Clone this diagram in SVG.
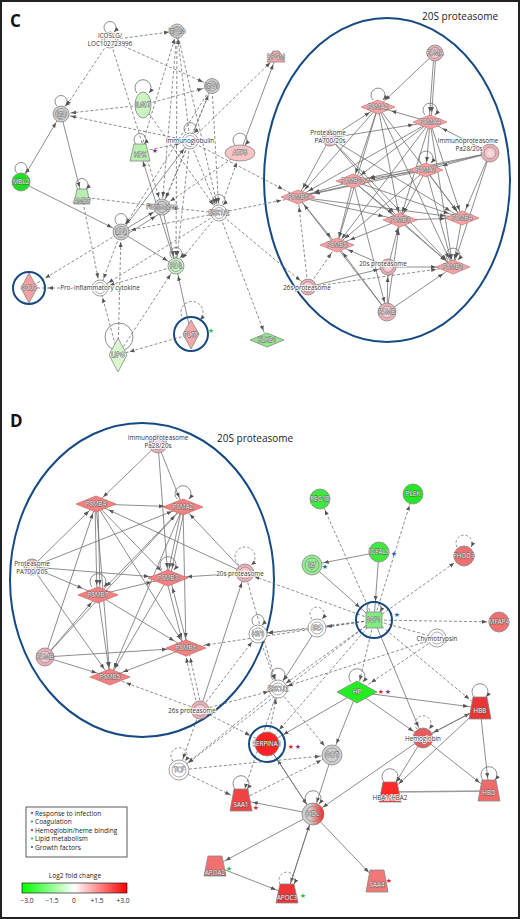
<svg xmlns="http://www.w3.org/2000/svg" width="520" height="919" viewBox="0 0 520 919">
<defs>
<style>
.e{stroke:#717171;stroke-width:0.8;fill:none}
.d{stroke:#717171;stroke-width:0.8;stroke-dasharray:3 2;fill:none}
.lp{stroke:#717171;stroke-width:0.8;fill:none}
.ld{stroke:#717171;stroke-width:0.8;fill:none;stroke-dasharray:2.5 2}
.ring{stroke:#888;stroke-width:0.7;fill:none}
.nd{stroke:#888;stroke-width:0.8}
.gray{fill:#cfcfcf}
.wht{fill:#fff}
.pk{fill:url(#pkg)}
.dmc{fill:#f5a3a3;stroke:#c77;stroke-width:0.7}
.dmd{fill:#f28282;stroke:#c66;stroke-width:0.7}
.blue{fill:none;stroke:#174a84;stroke-width:2}
.big{fill:none;stroke:#174a84;stroke-width:2}
text{font-family:"Open Sans","Liberation Sans",sans-serif}
.t{font-size:6.3px;fill:#333;text-anchor:middle;stroke:#fff;stroke-width:1.6px;paint-order:stroke;stroke-linejoin:round}
.tw{font-size:6.3px;fill:#fff;text-anchor:middle;stroke:#555;stroke-width:0.8px;paint-order:stroke;stroke-linejoin:round}
.st{font-family:"DejaVu Sans",sans-serif;font-size:7px;text-anchor:middle}
.lg{font-size:6.6px;fill:#222}
.tk{font-size:6.6px;fill:#222;text-anchor:middle}
</style>
<radialGradient id="pkg" cx="0.5" cy="0.5" r="0.5"><stop offset="0" stop-color="#fde6e9"/><stop offset="1" stop-color="#eba3ae"/></radialGradient>
<linearGradient id="hdlg" x1="0" x2="1" y1="0" y2="0"><stop offset="0.35" stop-color="#cfcfcf"/><stop offset="1" stop-color="#ff1c1c"/></linearGradient>
<linearGradient id="fc" x1="0" x2="1" y1="0" y2="0"><stop offset="0" stop-color="#00ff00"/><stop offset="0.5" stop-color="#ffffff"/><stop offset="1" stop-color="#ff0000"/></linearGradient>
<marker id="a0" viewBox="0 0 10 10" refX="10" refY="5" markerWidth="5" markerHeight="5" markerUnits="userSpaceOnUse" orient="auto"><path d="M0,1 L10,5 L0,9 z" fill="#555"/></marker>
<marker id="a8" viewBox="0 0 10 10" refX="26" refY="5" markerWidth="5" markerHeight="5" markerUnits="userSpaceOnUse" orient="auto"><path d="M0,1 L10,5 L0,9 z" fill="#555"/></marker>
<marker id="a10" viewBox="0 0 10 10" refX="30" refY="5" markerWidth="5" markerHeight="5" markerUnits="userSpaceOnUse" orient="auto"><path d="M0,1 L10,5 L0,9 z" fill="#555"/></marker>
<marker id="a12" viewBox="0 0 10 10" refX="34" refY="5" markerWidth="5" markerHeight="5" markerUnits="userSpaceOnUse" orient="auto"><path d="M0,1 L10,5 L0,9 z" fill="#555"/></marker>
<marker id="a14" viewBox="0 0 10 10" refX="38" refY="5" markerWidth="5" markerHeight="5" markerUnits="userSpaceOnUse" orient="auto"><path d="M0,1 L10,5 L0,9 z" fill="#555"/></marker>
<marker id="a17" viewBox="0 0 10 10" refX="44" refY="5" markerWidth="5" markerHeight="5" markerUnits="userSpaceOnUse" orient="auto"><path d="M0,1 L10,5 L0,9 z" fill="#555"/></marker>
<marker id="a19" viewBox="0 0 10 10" refX="48" refY="5" markerWidth="5" markerHeight="5" markerUnits="userSpaceOnUse" orient="auto"><path d="M0,1 L10,5 L0,9 z" fill="#555"/></marker>
</defs>
<rect x="0" y="0" width="520" height="919" fill="#fff"/>
<rect x="1" y="1" width="518" height="917" fill="none" stroke="#222" stroke-width="2"/>

<!-- ================= PANEL C ================= -->
<text x="10" y="27" style="font-family:'Open Sans','Liberation Sans',sans-serif;font-size:17px;font-weight:bold;fill:#111">C</text>
<text x="422" y="20" style="font-size:10px;fill:#222">20S proteasome</text>
<ellipse cx="387" cy="180" rx="123" ry="162" class="big"/>

<g id="c-edges">
<line class="e" x1="21" y1="182" x2="61" y2="114" marker-end="url(#a10)"/>
<line class="e" x1="61" y1="114" x2="82" y2="197" marker-end="url(#a10)"/>
<line class="e" x1="21" y1="182" x2="121" y2="232" marker-end="url(#a10)"/>
<line class="e" x1="121" y1="232" x2="162" y2="207" marker-end="url(#a10)"/>
<line class="e" x1="124" y1="236" x2="164" y2="211" marker-end="url(#a10)"/>
<line class="e" x1="121" y1="232" x2="190" y2="141" marker-end="url(#a10)"/>
<line class="e" x1="121" y1="232" x2="176" y2="266" marker-end="url(#a10)"/>
<line class="e" x1="162" y1="207" x2="176" y2="266" marker-end="url(#a10)"/>
<line class="e" x1="176" y1="266" x2="140" y2="152" marker-end="url(#a10)"/>
<line class="e" x1="191" y1="334" x2="176" y2="266" marker-end="url(#a10)"/>
<line class="e" x1="240" y1="153" x2="276" y2="57" marker-end="url(#a8)"/>
<line class="e" x1="308" y1="287" x2="388" y2="267" marker-end="url(#a10)"/>
<line class="d" x1="110" y1="40" x2="177" y2="31" marker-end="url(#a8)"/>
<line class="d" x1="110" y1="40" x2="212" y2="86" marker-end="url(#a10)"/>
<line class="d" x1="110" y1="40" x2="61" y2="114" marker-end="url(#a10)"/>
<line class="d" x1="110" y1="40" x2="162" y2="207" marker-end="url(#a10)"/>
<line class="d" x1="143" y1="105" x2="61" y2="114" marker-end="url(#a10)"/>
<line class="d" x1="143" y1="105" x2="212" y2="86" marker-end="url(#a10)"/>
<line class="d" x1="143" y1="105" x2="219" y2="213" marker-end="url(#a10)"/>
<line class="d" x1="190" y1="141" x2="61" y2="114" marker-end="url(#a10)"/>
<line class="d" x1="190" y1="141" x2="177" y2="31" marker-end="url(#a8)"/>
<line class="d" x1="190" y1="141" x2="212" y2="86" marker-end="url(#a10)"/>
<line class="d" x1="190" y1="141" x2="276" y2="57" marker-end="url(#a8)"/>
<line class="d" x1="190" y1="141" x2="298" y2="197" marker-end="url(#a17)"/>
<line class="d" x1="140" y1="152" x2="177" y2="31" marker-end="url(#a8)"/>
<line class="d" x1="140" y1="152" x2="190" y2="141" marker-end="url(#a10)"/>
<line class="d" x1="177" y1="31" x2="162" y2="207" marker-end="url(#a10)"/>
<line class="d" x1="177" y1="31" x2="219" y2="213" marker-end="url(#a10)"/>
<line class="d" x1="177" y1="31" x2="176" y2="266" marker-end="url(#a10)"/>
<line class="d" x1="212" y1="86" x2="121" y2="232" marker-end="url(#a10)"/>
<line class="d" x1="212" y1="86" x2="219" y2="213" marker-end="url(#a10)"/>
<line class="d" x1="212" y1="86" x2="162" y2="207" marker-end="url(#a10)"/>
<line class="d" x1="82" y1="197" x2="162" y2="207" marker-end="url(#a10)"/>
<line class="d" x1="82" y1="197" x2="100" y2="288" marker-end="url(#a10)"/>
<line class="d" x1="190" y1="141" x2="162" y2="207" marker-end="url(#a10)"/>
<line class="d" x1="190" y1="141" x2="176" y2="266" marker-end="url(#a10)"/>
<line class="d" x1="190" y1="141" x2="219" y2="213" marker-end="url(#a10)"/>
<line class="d" x1="219" y1="213" x2="240" y2="153" marker-end="url(#a10)"/>
<line class="d" x1="219" y1="213" x2="298" y2="197" marker-end="url(#a17)"/>
<line class="d" x1="219" y1="213" x2="308" y2="287" marker-end="url(#a10)"/>
<line class="d" x1="219" y1="213" x2="267" y2="340" marker-end="url(#a10)"/>
<line class="d" x1="219" y1="213" x2="121" y2="232" marker-end="url(#a10)"/>
<line class="d" x1="219" y1="213" x2="176" y2="266" marker-end="url(#a10)"/>
<line class="d" x1="219" y1="213" x2="100" y2="288" marker-end="url(#a10)"/>
<line class="d" x1="219" y1="213" x2="162" y2="207" marker-end="url(#a10)"/>
<line class="d" x1="240" y1="153" x2="162" y2="207" marker-end="url(#a10)"/>
<line class="d" x1="121" y1="232" x2="29" y2="288" marker-end="url(#a19)"/>
<line class="d" x1="100" y1="288" x2="29" y2="288" marker-end="url(#a19)"/>
<line class="d" x1="176" y1="266" x2="100" y2="288" marker-end="url(#a10)"/>
<line class="d" x1="121" y1="232" x2="100" y2="288" marker-end="url(#a10)"/>
<line class="d" x1="118" y1="355" x2="100" y2="288" marker-end="url(#a10)"/>
<line class="d" x1="118" y1="355" x2="176" y2="266" marker-end="url(#a10)"/>
<line class="d" x1="191" y1="334" x2="118" y2="355" marker-end="url(#a12)"/>
<line class="d" x1="118" y1="355" x2="121" y2="232" marker-end="url(#a10)"/>
<line class="d" x1="308" y1="287" x2="298" y2="197" marker-end="url(#a10)"/>
<line class="d" x1="308" y1="287" x2="337" y2="245" marker-end="url(#a10)"/>
<line class="d" x1="308" y1="287" x2="453" y2="267" marker-end="url(#a17)"/>
<line class="e" x1="435" y1="53" x2="378" y2="107" marker-end="url(#a10)"/>
<line class="e" x1="434" y1="53" x2="429" y2="122" marker-end="url(#a10)"/>
<line class="e" x1="436" y1="53" x2="431" y2="122" marker-end="url(#a10)"/>
<line class="e" x1="330" y1="138" x2="378" y2="107" marker-end="url(#a10)"/>
<line class="e" x1="330" y1="138" x2="430" y2="122" marker-end="url(#a17)"/>
<line class="e" x1="330" y1="138" x2="298" y2="197" marker-end="url(#a10)"/>
<line class="e" x1="330" y1="138" x2="400" y2="220" marker-end="url(#a10)"/>
<line class="e" x1="330" y1="138" x2="453" y2="267" marker-end="url(#a10)"/>
<line class="e" x1="330" y1="138" x2="462" y2="218" marker-end="url(#a14)"/>
<line class="e" x1="490" y1="153" x2="430" y2="122" marker-end="url(#a14)"/>
<line class="e" x1="490" y1="153" x2="426" y2="170" marker-end="url(#a17)"/>
<line class="e" x1="490" y1="153" x2="353" y2="181" marker-end="url(#a17)"/>
<line class="e" x1="490" y1="153" x2="462" y2="218" marker-end="url(#a10)"/>
<line class="e" x1="490" y1="153" x2="453" y2="267" marker-end="url(#a10)"/>
<line class="e" x1="490" y1="153" x2="298" y2="197" marker-end="url(#a17)"/>
<line class="e" x1="378" y1="107" x2="298" y2="197" marker-end="url(#a10)"/>
<line class="e" x1="378" y1="107" x2="353" y2="181" marker-end="url(#a8)"/>
<line class="e" x1="378" y1="107" x2="400" y2="220" marker-end="url(#a8)"/>
<line class="e" x1="378" y1="107" x2="337" y2="245" marker-end="url(#a8)"/>
<line class="e" x1="378" y1="107" x2="462" y2="218" marker-end="url(#a10)"/>
<line class="e" x1="378" y1="107" x2="453" y2="267" marker-end="url(#a10)"/>
<line class="e" x1="430" y1="122" x2="378" y2="107" marker-end="url(#a14)"/>
<line class="e" x1="430" y1="122" x2="298" y2="197" marker-end="url(#a12)"/>
<line class="e" x1="430" y1="122" x2="353" y2="181" marker-end="url(#a10)"/>
<line class="e" x1="430" y1="122" x2="426" y2="170" marker-end="url(#a8)"/>
<line class="e" x1="430" y1="122" x2="400" y2="220" marker-end="url(#a8)"/>
<line class="e" x1="430" y1="122" x2="462" y2="218" marker-end="url(#a8)"/>
<line class="e" x1="430" y1="122" x2="453" y2="267" marker-end="url(#a8)"/>
<line class="e" x1="430" y1="122" x2="337" y2="245" marker-end="url(#a8)"/>
<line class="e" x1="426" y1="170" x2="298" y2="197" marker-end="url(#a17)"/>
<line class="e" x1="426" y1="170" x2="353" y2="181" marker-end="url(#a17)"/>
<line class="e" x1="426" y1="170" x2="400" y2="220" marker-end="url(#a8)"/>
<line class="e" x1="426" y1="170" x2="337" y2="245" marker-end="url(#a10)"/>
<line class="e" x1="426" y1="170" x2="453" y2="267" marker-end="url(#a8)"/>
<line class="e" x1="426" y1="170" x2="462" y2="218" marker-end="url(#a8)"/>
<line class="e" x1="353" y1="181" x2="298" y2="197" marker-end="url(#a17)"/>
<line class="e" x1="353" y1="181" x2="337" y2="245" marker-end="url(#a8)"/>
<line class="e" x1="353" y1="181" x2="400" y2="220" marker-end="url(#a10)"/>
<line class="e" x1="353" y1="181" x2="462" y2="218" marker-end="url(#a14)"/>
<line class="e" x1="353" y1="181" x2="453" y2="267" marker-end="url(#a10)"/>
<line class="e" x1="353" y1="181" x2="387" y2="312" marker-end="url(#a10)"/>
<line class="e" x1="298" y1="197" x2="337" y2="245" marker-end="url(#a10)"/>
<line class="e" x1="298" y1="197" x2="400" y2="220" marker-end="url(#a17)"/>
<line class="e" x1="298" y1="197" x2="462" y2="218" marker-end="url(#a17)"/>
<line class="e" x1="400" y1="220" x2="462" y2="218" marker-end="url(#a17)"/>
<line class="e" x1="400" y1="220" x2="453" y2="267" marker-end="url(#a10)"/>
<line class="e" x1="400" y1="220" x2="337" y2="245" marker-end="url(#a14)"/>
<line class="e" x1="462" y1="218" x2="453" y2="267" marker-end="url(#a8)"/>
<line class="e" x1="388" y1="267" x2="453" y2="267" marker-end="url(#a17)"/>
<line class="e" x1="388" y1="267" x2="337" y2="245" marker-end="url(#a12)"/>
<line class="e" x1="388" y1="267" x2="400" y2="220" marker-end="url(#a8)"/>
<line class="e" x1="387" y1="312" x2="337" y2="245" marker-end="url(#a10)"/>
<line class="e" x1="387" y1="312" x2="453" y2="267" marker-end="url(#a12)"/>
<line class="e" x1="387" y1="312" x2="400" y2="220" marker-end="url(#a10)"/>
<line class="e" x1="387" y1="312" x2="388" y2="267" marker-end="url(#a10)"/>
<line class="e" x1="387" y1="312" x2="298" y2="197" marker-end="url(#a10)"/>
</g>

<g id="c-icoslg"><path class="lp" d="M106,32 A6 6 0 1 1 114,32" marker-end="url(#a0)"/><circle cx="110" cy="40" r="8" class="nd" fill="#eef3ec"/><circle cx="110" cy="40" r="5.5" class="ring"/><text class="t" x="110" y="38">ICOSLG/</text><text class="t" x="110" y="46">LOC102723996</text></g>
<g id="c-igg2a"><circle cx="177" cy="31" r="7" class="nd gray"/><circle cx="177" cy="31" r="4.5" class="ring"/><text class="tw" x="177" y="33">IgG2a</text></g>
<g id="c-igg1"><circle cx="212" cy="86" r="7.5" class="nd gray"/><circle cx="212" cy="86" r="5" class="ring"/><text class="tw" x="212" y="88">IgG1</text></g>
<g id="c-il6st"><path class="lp" d="M137,93 A8 8 0 1 1 149,93" marker-end="url(#a0)"/><ellipse cx="143" cy="105" rx="8" ry="13" class="nd" fill="#c9f5c1"/><text class="tw" x="143" y="107">IL6ST</text></g>
<g id="c-iga"><path class="lp" d="M57,106 A6 6 0 1 1 65,106" marker-end="url(#a0)"/><circle cx="61" cy="114" r="8" class="nd gray"/><circle cx="61" cy="114" r="5.5" class="ring"/><text class="tw" x="61" y="116">Iga</text></g>
<g id="c-imm"><path class="lp" d="M186,133 A6 6 0 1 1 194,133" marker-end="url(#a0)"/><circle cx="190" cy="141" r="8" class="nd wht"/><circle cx="190" cy="141" r="5.5" class="ring"/><text class="t" x="190" y="143">Immunoglobulin</text></g>
<g id="c-hpx"><path class="lp" d="M136,144 A6 6 0 1 1 144,144" marker-end="url(#a0)"/><polygon points="134,144 146,144 150,161 130,161" class="nd" fill="#b7efaf"/><text class="tw" x="140" y="157">HPX</text><text class="st" x="155" y="153" fill="#7b2d9b">★</text></g>
<g id="c-atf6"><path class="lp" d="M235,145 A7 7 0 1 1 245,145" marker-end="url(#a0)"/><ellipse cx="240" cy="153" rx="15" ry="8" class="nd" fill="#f9c4c4"/><text class="tw" x="240" y="155">ATF6</text></g>
<g id="c-mbl2"><path class="lp" d="M17,173 A6 6 0 1 1 25,173" marker-end="url(#a0)"/><circle cx="21" cy="182" r="9" class="nd" fill="#22dd22"/><text class="tw" x="21" y="184">MBL2</text></g>
<g id="c-ambp"><path class="lp" d="M78,189 A6 6 0 1 1 86,189" marker-end="url(#a0)"/><polygon points="77,189 87,189 90,204 74,204" class="nd" fill="#b7efaf"/><text class="tw" x="82" y="203">AMBP</text></g>
<g id="c-bpgm"><polygon points="273,51 279,51 285,62 267,62" class="nd" fill="#f4a6a6"/><text class="tw" x="276" y="59">BPGM</text></g>
<g id="c-ldl"><path class="lp" d="M117,224 A6 6 0 1 1 125,224" marker-end="url(#a0)"/><circle cx="121" cy="232" r="8" class="nd gray"/><circle cx="121" cy="232" r="5.5" class="ring"/><text class="tw" x="121" y="234">LDL</text></g>
<g id="c-fib"><circle cx="162" cy="207" r="8" class="nd gray"/><circle cx="162" cy="207" r="5.5" class="ring"/><text class="tw" x="162" y="209">Fibrinogen</text></g>
<g id="c-erk"><path class="lp" d="M215,205 A6 6 0 1 1 223,205" marker-end="url(#a0)"/><circle cx="219" cy="213" r="8" class="nd wht"/><circle cx="219" cy="213" r="5.5" class="ring"/><text class="tw" x="219" y="215">ERK1/2</text></g>
<g id="c-hdl"><path class="lp" d="M172,258 A6 6 0 1 1 180,258" marker-end="url(#a0)"/><circle cx="176" cy="266" r="8" class="nd" fill="#c8f5c0"/><circle cx="176" cy="266" r="5.5" class="ring"/><text class="tw" x="176" y="268">HDL</text></g>
<g id="c-gclc"><polygon points="29,273 37,288 29,303 21,288" class="nd" fill="#f4a0a0"/><circle cx="29" cy="288" r="16" class="blue"/><text class="tw" x="29" y="290">GCLC</text></g>
<g id="c-proinf"><circle cx="100" cy="288" r="8" class="nd wht"/><circle cx="100" cy="288" r="5.5" class="ring"/><text class="t" x="100" y="290">Pro- inflammatory cytokine</text></g>
<g id="c-pltp"><path class="ld" d="M184,320 A11 11 0 1 1 200,320" marker-end="url(#a0)"/><polygon points="191,320 199,334 191,349 183,334" class="nd" fill="#f6a8a8"/><circle cx="191" cy="334" r="17" class="blue"/><text class="tw" x="191" y="337">PLTP</text><text class="st" x="211" y="333" fill="#22c244">★</text></g>
<g id="c-lipg"><circle cx="119" cy="337" r="14" class="lp"/><polygon points="118,338 127,355 118,372 109,355" class="nd" fill="#d8f7cf"/><text class="tw" x="118" y="357">LIPG</text></g>
<g id="c-klkb1"><polygon points="250,340 267,333 284,340 267,347" class="nd" fill="#90e88a"/><text class="tw" x="267" y="342">KLKB1</text></g>
<g id="c-psma"><circle cx="435" cy="53" r="8" class="nd pk"/><circle cx="435" cy="53" r="5.5" class="ring"/><text class="tw" x="435" y="55">PSMA</text></g>
<g id="c-psma2"><path class="lp" d="M373,100 A7 7 0 1 1 383,100" marker-end="url(#a0)"/><polygon points="361,107 378,100 395,107 378,114" class="dmc"/><text class="tw" x="378" y="109">PSMA2</text></g>
<g id="c-psma4"><path class="lp" d="M425,115 A7 7 0 1 1 435,115" marker-end="url(#a0)"/><polygon points="413,122 430,115 447,122 430,129" class="dmc"/><text class="tw" x="430" y="124">PSMA4</text></g>
<g id="c-prot"><circle cx="330" cy="138" r="8" class="nd pk"/><circle cx="330" cy="138" r="5.5" class="ring"/><text class="t" x="328" y="135">Proteasome</text><text class="t" x="330" y="143">PA700/20s</text></g>
<g id="c-iprot"><circle cx="490" cy="153" r="9" class="nd pk"/><circle cx="490" cy="153" r="6" class="ring"/><text class="t" x="468" y="143">Immunoproteasome</text><text class="t" x="469" y="151">Pa28/20s</text></g>
<g id="c-psma1"><path class="lp" d="M421,163 A7 7 0 1 1 431,163" marker-end="url(#a0)"/><polygon points="409,170 426,163 443,170 426,177" class="dmc"/><text class="tw" x="426" y="172">PSMA1</text></g>
<g id="c-psmb10"><polygon points="336,181 353,174 370,181 353,188" class="dmc"/><text class="tw" x="353" y="183">PSMB10</text></g>
<g id="c-psmb6"><polygon points="281,197 298,190 315,197 298,204" class="dmc"/><text class="tw" x="298" y="199">PSMB6</text></g>
<g id="c-psmb3"><polygon points="383,220 400,213 417,220 400,227" class="dmc"/><text class="tw" x="400" y="222">PSMB3</text></g>
<g id="c-psmb4"><polygon points="445,218 462,211 479,218 462,225" class="dmc"/><text class="tw" x="462" y="220">PSMB4</text></g>
<g id="c-psmb5"><polygon points="320,245 337,238 354,245 337,252" class="dmc"/><text class="tw" x="337" y="247">PSMB5</text></g>
<g id="c-20s"><circle cx="388" cy="267" r="8" class="nd pk"/><circle cx="388" cy="267" r="5.5" class="ring"/><text class="t" x="383" y="266">20s proteasome</text></g>
<g id="c-psmb1"><path class="lp" d="M448,260 A7 7 0 1 1 458,260" marker-end="url(#a0)"/><polygon points="436,267 453,260 470,267 453,274" class="dmc"/><text class="tw" x="453" y="269">PSMB1</text></g>
<g id="c-26s"><circle cx="308" cy="287" r="8" class="nd pk"/><circle cx="308" cy="287" r="5.5" class="ring"/><text class="t" x="307" y="290">26s proteasome</text></g>
<g id="c-psmb"><circle cx="387" cy="312" r="9" class="nd pk"/><circle cx="387" cy="312" r="6" class="ring"/><text class="tw" x="387" y="314">PSMB</text></g>

<!-- ================= PANEL D ================= -->
<text x="10" y="427" style="font-family:'Open Sans','Liberation Sans',sans-serif;font-size:17px;font-weight:bold;fill:#111">D</text>
<text x="217" y="442" style="font-size:10px;fill:#222">20S proteasome</text>
<ellipse cx="142" cy="580" rx="132" ry="157" class="big"/>

<g id="d-edges">
<line class="e" x1="158" y1="444" x2="96" y2="504" marker-end="url(#a10)"/>
<line class="e" x1="158" y1="444" x2="183" y2="507" marker-end="url(#a10)"/>
<line class="e" x1="158" y1="444" x2="168" y2="578" marker-end="url(#a10)"/>
<line class="e" x1="96" y1="504" x2="183" y2="507" marker-end="url(#a19)"/>
<line class="e" x1="32" y1="567" x2="96" y2="504" marker-end="url(#a10)"/>
<line class="e" x1="32" y1="567" x2="183" y2="507" marker-end="url(#a12)"/>
<line class="e" x1="32" y1="567" x2="168" y2="578" marker-end="url(#a19)"/>
<line class="e" x1="32" y1="567" x2="98" y2="595" marker-end="url(#a17)"/>
<line class="e" x1="32" y1="567" x2="110" y2="677" marker-end="url(#a10)"/>
<line class="e" x1="95" y1="504" x2="97" y2="595" marker-end="url(#a10)"/>
<line class="e" x1="98" y1="504" x2="100" y2="595" marker-end="url(#a10)"/>
<line class="e" x1="96" y1="504" x2="168" y2="578" marker-end="url(#a10)"/>
<line class="e" x1="96" y1="504" x2="186" y2="648" marker-end="url(#a10)"/>
<line class="e" x1="96" y1="504" x2="110" y2="677" marker-end="url(#a10)"/>
<line class="e" x1="245" y1="573" x2="96" y2="504" marker-end="url(#a14)"/>
<line class="e" x1="245" y1="573" x2="183" y2="507" marker-end="url(#a10)"/>
<line class="e" x1="245" y1="573" x2="168" y2="578" marker-end="url(#a19)"/>
<line class="e" x1="183" y1="507" x2="98" y2="595" marker-end="url(#a12)"/>
<line class="e" x1="183" y1="507" x2="110" y2="677" marker-end="url(#a10)"/>
<line class="e" x1="183" y1="507" x2="186" y2="648" marker-end="url(#a10)"/>
<line class="e" x1="182" y1="507" x2="167" y2="578" marker-end="url(#a10)"/>
<line class="e" x1="185" y1="507" x2="170" y2="578" marker-end="url(#a10)"/>
<line class="e" x1="45" y1="657" x2="96" y2="504" marker-end="url(#a10)"/>
<line class="e" x1="45" y1="657" x2="98" y2="595" marker-end="url(#a10)"/>
<line class="e" x1="45" y1="657" x2="186" y2="648" marker-end="url(#a19)"/>
<line class="e" x1="45" y1="657" x2="110" y2="677" marker-end="url(#a14)"/>
<line class="e" x1="45" y1="657" x2="183" y2="507" marker-end="url(#a12)"/>
<line class="e" x1="98" y1="595" x2="168" y2="578" marker-end="url(#a17)"/>
<line class="e" x1="98" y1="595" x2="186" y2="648" marker-end="url(#a14)"/>
<line class="e" x1="98" y1="595" x2="110" y2="677" marker-end="url(#a10)"/>
<line class="e" x1="166" y1="578" x2="184" y2="648" marker-end="url(#a10)"/>
<line class="e" x1="188" y1="648" x2="170" y2="578" marker-end="url(#a10)"/>
<line class="e" x1="168" y1="578" x2="110" y2="677" marker-end="url(#a10)"/>
<line class="e" x1="186" y1="648" x2="110" y2="677" marker-end="url(#a14)"/>
<line class="e" x1="200" y1="710" x2="245" y2="573" marker-end="url(#a10)"/>
<line class="d" x1="198" y1="710" x2="184" y2="648" marker-end="url(#a10)"/>
<line class="d" x1="202" y1="710" x2="188" y2="648" marker-end="url(#a10)"/>
<line class="d" x1="200" y1="710" x2="110" y2="677" marker-end="url(#a17)"/>
<line class="d" x1="200" y1="710" x2="258" y2="634" marker-end="url(#a10)"/>
<line class="d" x1="200" y1="710" x2="278" y2="689" marker-end="url(#a10)"/>
<line class="d" x1="200" y1="710" x2="179" y2="770" marker-end="url(#a12)"/>
<line class="d" x1="200" y1="710" x2="267" y2="744" marker-end="url(#a19)"/>
<line class="d" x1="374" y1="620" x2="186" y2="648" marker-end="url(#a19)"/>
<line class="d" x1="374" y1="620" x2="245" y2="573" marker-end="url(#a10)"/>
<line class="d" x1="374" y1="620" x2="258" y2="634" marker-end="url(#a10)"/>
<line class="d" x1="374" y1="620" x2="317" y2="628" marker-end="url(#a10)"/>
<line class="d" x1="374" y1="620" x2="278" y2="689" marker-end="url(#a10)"/>
<line class="d" x1="374" y1="620" x2="320" y2="499" marker-end="url(#a12)"/>
<line class="d" x1="374" y1="620" x2="413" y2="494" marker-end="url(#a12)"/>
<line class="d" x1="374" y1="620" x2="464" y2="556" marker-end="url(#a12)"/>
<line class="d" x1="374" y1="620" x2="499" y2="622" marker-end="url(#a12)"/>
<line class="d" x1="374" y1="620" x2="437" y2="638"/>
<line class="d" x1="374" y1="620" x2="357" y2="692" marker-end="url(#a12)"/>
<line class="d" x1="374" y1="620" x2="480" y2="708" marker-end="url(#a14)"/>
<line class="d" x1="374" y1="620" x2="267" y2="744" marker-end="url(#a19)"/>
<line class="d" x1="374" y1="620" x2="179" y2="770" marker-end="url(#a12)"/>
<line class="d" x1="317" y1="628" x2="258" y2="634" marker-end="url(#a10)"/>
<line class="d" x1="258" y1="634" x2="278" y2="689" marker-end="url(#a10)"/>
<line class="d" x1="245" y1="573" x2="278" y2="689" marker-end="url(#a10)"/>
<line class="d" x1="437" y1="638" x2="357" y2="692" marker-end="url(#a17)"/>
<line class="d" x1="437" y1="638" x2="278" y2="689" marker-end="url(#a10)"/>
<line class="d" x1="278" y1="689" x2="241" y2="800" marker-end="url(#a12)"/>
<line class="d" x1="267" y1="744" x2="278" y2="689" marker-end="url(#a10)"/>
<line class="d" x1="278" y1="689" x2="332" y2="755" marker-end="url(#a12)"/>
<line class="d" x1="278" y1="689" x2="179" y2="770" marker-end="url(#a12)"/>
<line class="d" x1="179" y1="770" x2="241" y2="800" marker-end="url(#a12)"/>
<line class="d" x1="241" y1="800" x2="332" y2="755" marker-end="url(#a12)"/>
<line class="d" x1="179" y1="770" x2="332" y2="755" marker-end="url(#a12)"/>
<line class="e" x1="379" y1="552" x2="374" y2="620" marker-end="url(#a19)"/>
<line class="e" x1="379" y1="552" x2="312" y2="565" marker-end="url(#a12)"/>
<line class="e" x1="312" y1="565" x2="374" y2="620" marker-end="url(#a19)"/>
<line class="e" x1="317" y1="628" x2="278" y2="689" marker-end="url(#a10)"/>
<line class="e" x1="357" y1="692" x2="480" y2="708" marker-end="url(#a12)"/>
<line class="e" x1="357" y1="692" x2="423" y2="738" marker-end="url(#a12)"/>
<line class="e" x1="357" y1="692" x2="332" y2="755" marker-end="url(#a12)"/>
<line class="e" x1="357" y1="692" x2="267" y2="744" marker-end="url(#a19)"/>
<line class="e" x1="374" y1="620" x2="423" y2="738" marker-end="url(#a12)"/>
<line class="e" x1="313" y1="814" x2="267" y2="744" marker-end="url(#a19)"/>
<line class="e" x1="267" y1="744" x2="313" y2="814" marker-end="url(#a12)"/>
<line class="e" x1="332" y1="755" x2="313" y2="814" marker-end="url(#a12)"/>
<line class="e" x1="313" y1="814" x2="241" y2="800" marker-end="url(#a12)"/>
<line class="e" x1="313" y1="814" x2="215" y2="866" marker-end="url(#a12)"/>
<line class="e" x1="215" y1="866" x2="287" y2="894" marker-end="url(#a12)"/>
<line class="e" x1="313" y1="814" x2="287" y2="894" marker-end="url(#a12)"/>
<line class="e" x1="287" y1="894" x2="313" y2="814" marker-end="url(#a12)"/>
<line class="e" x1="313" y1="814" x2="377" y2="881" marker-end="url(#a12)"/>
<line class="e" x1="423" y1="738" x2="313" y2="814" marker-end="url(#a12)"/>
<line class="e" x1="423" y1="738" x2="390" y2="792" marker-end="url(#a12)"/>
<line class="e" x1="423" y1="738" x2="480" y2="708" marker-end="url(#a12)"/>
<line class="e" x1="480" y1="708" x2="423" y2="738" marker-end="url(#a12)"/>
<line class="e" x1="423" y1="738" x2="489" y2="790" marker-end="url(#a12)"/>
<line class="e" x1="480" y1="708" x2="390" y2="792" marker-end="url(#a12)"/>
<line class="e" x1="480" y1="708" x2="489" y2="790" marker-end="url(#a12)"/>
<line x1="390" y1="792" x2="489" y2="791" style="stroke:#999;stroke-width:1.4"/>
</g>

<g id="d-iprot"><circle cx="158" cy="444" r="9" class="nd pk"/><circle cx="158" cy="444" r="6" class="ring"/><text class="t" x="158" y="440">Immunoproteasome</text><text class="t" x="158" y="448">Pa28/20s</text></g>
<g id="d-psmb4"><polygon points="76,504 96,496 116,504 96,512" class="dmd"/><text class="tw" x="96" y="506">PSMB4</text></g>
<g id="d-psma2"><path class="lp" d="M177,499 A8 8 0 1 1 189,499" marker-end="url(#a0)"/><polygon points="163,507 183,499 203,507 183,515" class="dmd"/><text class="tw" x="183" y="509">PSMA2</text></g>
<g id="d-prot"><circle cx="32" cy="567" r="8" class="nd pk"/><circle cx="32" cy="567" r="5.5" class="ring"/><text class="t" x="32" y="566">Proteasome</text><text class="t" x="32" y="574">PA700/20S</text></g>
<g id="d-psmb3"><path class="lp" d="M162,570 A8 8 0 1 1 174,570" marker-end="url(#a0)"/><polygon points="148,578 168,570 188,578 168,586" class="dmd"/><text class="tw" x="168" y="580">PSMB3</text></g>
<g id="d-20s"><path class="ld" d="M239,565 A10 10 0 1 1 251,565" marker-end="url(#a0)"/><circle cx="245" cy="573" r="9" class="nd pk"/><circle cx="245" cy="573" r="6" class="ring"/><text class="t" x="240" y="576">20s proteasome</text></g>
<g id="d-psmb7"><path class="lp" d="M92,587 A8 8 0 1 1 104,587" marker-end="url(#a0)"/><polygon points="78,595 98,587 118,595 98,603" class="dmd"/><text class="tw" x="98" y="597">PSMB7</text></g>
<g id="d-psmb6"><polygon points="166,648 186,640 206,648 186,656" class="dmd"/><text class="tw" x="186" y="650">PSMB6</text></g>
<g id="d-psmb"><circle cx="45" cy="657" r="9" class="nd pk"/><circle cx="45" cy="657" r="6" class="ring"/><text class="tw" x="45" y="659">PSMB</text></g>
<g id="d-psmb5"><polygon points="90,677 110,669 130,677 110,685" class="dmd"/><text class="tw" x="110" y="679">PSMB5</text></g>
<g id="d-26s"><circle cx="200" cy="710" r="9" class="nd pk"/><circle cx="200" cy="710" r="6" class="ring"/><text class="t" x="192" y="713">26s proteasome</text></g>
<g id="d-hif1"><path class="lp" d="M254,625 A6 6 0 1 1 262,625" marker-end="url(#a0)"/><circle cx="258" cy="634" r="9" class="nd wht"/><circle cx="258" cy="634" r="6" class="ring"/><text class="tw" x="258" y="636">Hif1</text></g>
<g id="d-reg1b"><circle cx="320" cy="499" r="10" class="nd" fill="#3ee83e"/><text class="tw" x="320" y="501">REG1B</text></g>
<g id="d-plek"><circle cx="413" cy="494" r="10" class="nd" fill="#22e822"/><text class="tw" x="413" y="496">PLEK</text></g>
<g id="d-igfals"><circle cx="379" cy="552" r="10" class="nd" fill="#3ee83e"/><text class="tw" x="379" y="554">IGFALS</text><text class="st" x="394" y="556" fill="#1f5fb8">★</text></g>
<g id="d-igf"><circle cx="312" cy="565" r="10" class="nd" fill="#90ee90"/><circle cx="312" cy="565" r="7" class="ring"/><text class="tw" x="312" y="567">Igf</text><text class="st" x="325" y="569" fill="#1f5fb8">★</text></g>
<g id="d-fhod3"><path class="ld" d="M457,547 A8 8 0 1 1 471,547" marker-end="url(#a0)"/><circle cx="464" cy="556" r="10" class="nd" fill="#f07070"/><text class="tw" x="464" y="558">FHOD3</text></g>
<g id="d-igf1"><path class="lp" d="M368,612 A7 7 0 1 1 380,612" marker-end="url(#a0)"/><rect x="366" y="612" width="16" height="16" class="nd" fill="#7eec7e"/><circle cx="374" cy="620" r="18" class="blue"/><text class="tw" x="374" y="622">IGF1</text><text class="st" x="397" y="617" fill="#1f5fb8">★</text></g>
<g id="d-irs"><path class="ld" d="M312,619 A7 7 0 1 1 322,619" marker-end="url(#a0)"/><circle cx="317" cy="628" r="9" class="nd wht"/><circle cx="317" cy="628" r="6" class="ring"/><text class="tw" x="317" y="630">IRS</text></g>
<g id="d-mfap4"><circle cx="499" cy="622" r="10" class="nd" fill="#f07070"/><text class="tw" x="499" y="624">MFAP4</text></g>
<g id="d-chymo"><circle cx="437" cy="638" r="9" class="nd wht"/><circle cx="437" cy="638" r="6" class="ring"/><text class="t" x="437" y="641">Chymotrypsin</text></g>
<g id="d-erk"><path class="lp" d="M273,680 A7 7 0 1 1 283,680" marker-end="url(#a0)"/><circle cx="278" cy="689" r="9" class="nd wht"/><circle cx="278" cy="689" r="6" class="ring"/><text class="tw" x="278" y="691">ERK1/2</text></g>
<g id="d-hp"><path class="lp" d="M351,682 A8 8 0 1 1 363,682" marker-end="url(#a0)"/><polygon points="337,692 357,681 377,692 357,703" class="nd" fill="#22ee22"/><text class="tw" x="357" y="694">HP</text><text class="st" x="381" y="694" fill="#e0203a">★</text><text class="st" x="388" y="694" fill="#7b2d9b">★</text></g>
<g id="d-hbb"><path class="lp" d="M474,697 A8 8 0 1 1 486,697" marker-end="url(#a0)"/><polygon points="473,697 487,697 491,719 469,719" class="nd" fill="#e83535"/><text class="tw" x="480" y="713">HBB</text></g>
<g id="d-hemo"><path class="ld" d="M417,729 A8 8 0 1 1 429,729" marker-end="url(#a0)"/><circle cx="423" cy="738" r="10" class="nd" fill="#f05858"/><circle cx="423" cy="738" r="7" class="ring"/><text class="t" x="423" y="741">Hemoglobin</text></g>
<g id="d-serp"><circle cx="267" cy="744" r="12" class="nd" fill="#ff2222"/><circle cx="267" cy="744" r="18" class="blue"/><text class="tw" x="267" y="746">SERPINA1</text><text class="st" x="291" y="749" fill="#e0203a">★</text><text class="st" x="298" y="749" fill="#7b2d9b">★</text></g>
<g id="d-got"><circle cx="332" cy="755" r="10" class="nd gray"/><circle cx="332" cy="755" r="7" class="ring"/><text class="tw" x="332" y="757">GOT</text></g>
<g id="d-tcf"><path class="ld" d="M173,761 A8 8 0 1 1 185,761" marker-end="url(#a0)"/><circle cx="179" cy="770" r="10" class="nd wht"/><circle cx="179" cy="770" r="7" class="ring"/><text class="tw" x="179" y="772">TCF</text></g>
<g id="d-hba"><path class="lp" d="M384,782 A8 8 0 1 1 396,782" marker-end="url(#a0)"/><polygon points="383,782 397,782 401,802 379,802" class="nd" fill="#ff2828"/><text class="t" x="390" y="800">HBA1/HBA2</text></g>
<g id="d-hbd"><path class="lp" d="M483,780 A8 8 0 1 1 495,780" marker-end="url(#a0)"/><polygon points="482,780 496,780 500,801 478,801" class="nd" fill="#f06a6a"/><text class="tw" x="489" y="795">HBD</text></g>
<g id="d-saa1"><path class="lp" d="M235,789 A8 8 0 1 1 247,789" marker-end="url(#a0)"/><polygon points="234,789 248,789 252,811 230,811" class="nd" fill="#f04444"/><text class="tw" x="241" y="807">SAA1</text><text class="st" x="256" y="810" fill="#e0203a">★</text></g>
<g id="d-hdl"><path class="lp" d="M307,804 A8 8 0 1 1 319,804" marker-end="url(#a0)"/><circle cx="313" cy="814" r="11" class="nd" fill="url(#hdlg)"/><circle cx="313" cy="814" r="7.5" class="ring"/><text class="tw" x="313" y="816">HDL</text></g>
<g id="d-apoa2"><polygon points="208,856 222,856 226,876 204,876" class="nd" fill="#f27070"/><text class="tw" x="215" y="875">APOA2</text><text class="st" x="229" y="871" fill="#22c244">★</text></g>
<g id="d-saa4"><polygon points="370,870 384,870 388,892 366,892" class="nd" fill="#f07878"/><text class="tw" x="377" y="887">SAA4</text><text class="st" x="389" y="883" fill="#e0203a">★</text></g>
<g id="d-apoc3"><path class="ld" d="M280,884 A8 8 0 1 1 294,884" marker-end="url(#a0)"/><polygon points="280,884 294,884 298,903 276,903" class="nd" fill="#ee3434"/><text class="tw" x="287" y="900">APOC3</text><text class="st" x="303" y="898" fill="#22c244">★</text></g>

<g id="legend">
<rect x="26" y="807" width="101" height="50" fill="#fff" stroke="#333" stroke-width="0.8"/>
<circle cx="32" cy="813" r="1.1" fill="#e0203a"/><text class="lg" x="35" y="815.5">Response to infection</text>
<circle cx="32" cy="821.5" r="1.1" fill="#1a9a80"/><text class="lg" x="35" y="824">Coagulation</text>
<circle cx="32" cy="830" r="1.1" fill="#7b2d9b"/><text class="lg" x="35" y="832.5">Hemoglobin/heme binding</text>
<circle cx="32" cy="838.5" r="1.1" fill="#22c244"/><text class="lg" x="35" y="841">Lipid metabolism</text>
<circle cx="32" cy="847" r="1.1" fill="#1f5fb8"/><text class="lg" x="35" y="849.5">Growth factors</text>
<text class="tk" x="75" y="878">Log2 fold change</text>
<rect x="22" y="883" width="105" height="10" fill="url(#fc)" stroke="#222" stroke-width="0.7"/>
<text class="tk" x="27" y="903">−3.0</text>
<text class="tk" x="52" y="903">−1.5</text>
<text class="tk" x="74" y="903">0</text>
<text class="tk" x="97" y="903">+1.5</text>
<text class="tk" x="123" y="903">+3.0</text>
</g>
</svg>
